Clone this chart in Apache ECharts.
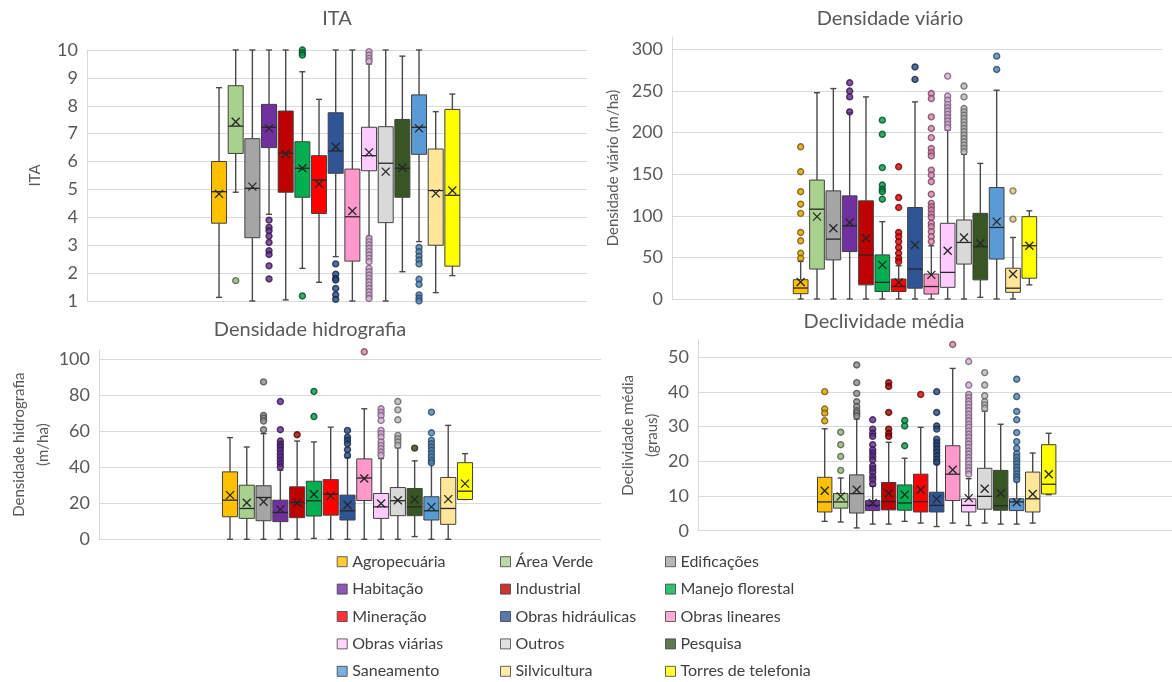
<!DOCTYPE html>
<html><head><meta charset="utf-8">
<script src="https://cdn.jsdelivr.net/npm/echarts@6/dist/echarts.min.js"></script>
<style>html,body{margin:0;padding:0;background:#fff}#c{width:1172px;height:682px}</style>
</head><body><div id="c"></div>
<script>
// ---------- DATA ----------
const categories = ['Agropecuária','Área Verde','Edificações','Habitação','Industrial','Manejo florestal','Mineração','Obras hidráulicas','Obras lineares','Obras viárias','Outros','Pesquisa','Saneamento','Silvicultura','Torres de telefonia'];
const colors = ['#FFC000','#A9D18E','#A5A5A5','#7030A0','#C00000','#00B050','#FF0000','#2F5597','#FF99CC','#FFCCFF','#D9D9D9','#375623','#5B9BD5','#FFE699','#FFFF00'];

// rows: [min, Q1, median, Q3, max, mean]
const itaBoxes = [
 [1.13,3.79,4.92,6.0,8.65,4.84],[4.9,6.29,7.27,8.72,10,7.43],[1.0,3.27,5.04,6.82,10,5.1],
 [4.11,6.5,7.23,8.05,10,7.19],[1.04,4.9,6.3,7.81,10,6.27],[2.17,4.72,5.76,6.71,9.22,5.76],
 [1.67,4.14,5.34,6.21,8.23,5.2],[2.59,5.58,6.38,7.75,10,6.53],[1.0,2.43,4.02,5.73,10,4.23],
 [3.31,5.67,6.21,7.23,9.5,6.33],[1.0,3.81,5.94,7.25,10,5.64],[2.05,4.72,5.76,7.51,9.78,5.78],
 [3.13,6.26,7.23,8.39,10,7.19],[1.3,3.0,4.96,6.45,7.79,4.86],[1.91,2.25,4.79,7.87,8.42,4.96]];
const itaOutliers = [[],[1.73],[],[3.9,3.64,3.52,3.33,3.1,2.8,2.67,2.26,1.79],[],[10,9.9,9.82,1.18],[],
 [2.33,1.96,1.81,1.75,1.45,1.22,1.06],[],
 [9.94,9.82,9.7,9.6,3.25,3.13,3.01,2.89,2.77,2.65,2.53,2.41,2.17,2.05,1.93,1.81,1.69,1.57,1.45,1.33,1.21,1.09],
 [],[],[2.92,2.77,2.61,2.47,2.33,1.78,1.6,1.22,1.1,1.0],[],[]];

const viarioBoxes = [
 [0,6.4,13.2,23.2,45.2,20.4],[0,36,108,143,248,99],[0,47,72,130,253,85],[0,57,88,124,224,92],
 [0,17,53,118,243,73],[0,9,20,53,93,41],[0,9,15,24,40,20],[0,13,36,110,237,65],[0,6,15,30,64,29],
 [0,14,32,91,203,58],[0,42,68,95,174,74],[2,23,63,103,163,67],[0,48,86,134,251,93],[0,8,13,37,74,30],
 [17,25,64,99,106,64]];
const viarioOutliers = [[183,153,129,114,103,80,70,55,49],[],[],[260,250,243,225],[],
 [215,198,158,137,132,129,120],[159,122,110,80,75,69,62,55,49,45],[279,264],
 [247,241,219,205,194,181,176,172,155,149,141,126,115,111,107,102,98,91,87,81,75,69],
 [268,244,239,234,230,226,222,218,214,210,206],
 [256,243,229,225,221,217,213,209,205,201,197,193,189,185,181,177],[],[292,276],[130,96],[]];

const hidroBoxes = [
 [0,12.5,21.7,37.4,56.4,24.5],[0,11.6,17.1,30,51.2,20.3],[0,10.3,23.2,29.7,58.6,20.8],[0,9.8,14.9,21.7,38.3,16.6],
 [0,12,20.4,29.1,54.5,20.3],[0.5,12.9,21.4,32.2,54,25],[0,13.4,25,33.1,62.2,24.1],[0,10.7,15.8,24.5,45.3,19],
 [0,21.5,34,44.6,72.4,33.7],[0,11.6,18,25.4,44.8,19.9],[0,13.1,21.4,28.7,50.8,21.7],[1.5,13.1,18,28.2,43.5,22.1],
 [0,10.7,15.8,23.6,42,18],[0,8.3,17.1,34.3,63.2,22.3],[22.1,22.1,26.7,42.5,47.5,30.9]];
const hidroOutliers = [[],[],[87.3,68.7,67.2,65.6,60.8],[76.4,60.8,54.5,52.7,51.2,49.4,47.5,45.7,43.8,42,40.1],[58],
 [82,68.1],[],[60.4,56.7,54.9,53,49.7,46.6],[104],[72.4,70.5,68.7,65.9,60.4,58.6,56.7,54,52.1,50.3,48.4,46.6],
 [76.4,71.8,66.3,57.6,55.8,54,52.1],[50.6],[70.5,59.1,54.9,53,51.2,49.4,47.5,45.7,43.8,42.4],[],[]];

const declivBoxes = [
 [2.7,5.4,8.3,15.4,29.4,11.5],[2.5,6.5,8.3,10.7,15.2,9.9],[0.8,5.1,10.7,16.1,32.2,11.8],[1.9,5.8,7.3,8.7,12.8,8.0],
 [1.9,6,8.4,13.9,25.5,10.8],[2.7,5.9,8,13.2,20.9,10.4],[2.2,5.4,8.4,16.3,29.8,11.8],[1.2,5.4,7.3,11.1,19.3,9.1],
 [2.2,8.7,16.3,24.5,46.8,17.6],[1.5,5.4,7.3,9.2,15.0,9.4],[2.2,6.2,9.9,18,34.5,12.1],[1.9,5.9,7.2,17.4,30.7,10.8],
 [1.9,5.8,8.3,9.2,14.2,8.2],[2.2,5.4,9.2,16.9,22.4,10.6],[10.4,10.6,13.4,24.8,28.1,16.3]];
const declivOutliers = [[40.1,35.1,33.9,31.7],[28.4,24.8,21.4,17.4],[47.8,42.7,39.6,37.2,35.8,34.6,33.9,33.1],
 [32,29.3,28.1,27.2,24.8,23.3,22.4,21.4,20.4,18.7,17.8,16.8,15.6,14.7,13.5],[42.7,41.6,34.1,29.3,28.1,27.2],
 [31.8,30.2,24.5],[39.3],[40.1,34.1,30.2,29.3,26.4,25.4,24.5,23.5,22.6,21.6,20.6,19.7],[53.7],
 [48.8,42,39.3,38.4,37.4,36.5,35.5,34.6,33.6,32.6,31.7,30.7,29.8,28.8,27.8,26.9,25.9,25,24,23,22.1,21.1,20.2,19.2,18.2,17.3,16.3],
 [45.6,42,38.9,37.2,36.3,35.3],[],[43.7,38.7,34.4,32,28.3,25.7,23.8,22.2,21.2,20.2,19.3,18.3,17.4,16.4,15.5,14.7],[],[]];

// ---------- LAYOUT ----------
const FONT = "Lato, 'Open Sans', sans-serif";
const TXT = '#595959';
const panels = [
 {title:'ITA', name:'ITA', boxes:itaBoxes, outliers:itaOutliers, min:1, max:10, interval:1,
  bg:{left:87,top:50,width:500,height:251}, box:{left:210.7,width:250}, t:[337,9], nameGap:40},
 {title:'Densidade viário', name:'Densidade viário (m/ha)', boxes:viarioBoxes, outliers:viarioOutliers, min:0, max:315, interval:50,
  bg:{left:672,top:37,width:490,height:262}, box:{left:792.5,width:245}, t:[890,9], nameGap:47},
 {title:'Densidade hidrografia', name:'Densidade hidrografia\n(m/ha)', boxes:hidroBoxes, outliers:hidroOutliers, min:0, max:105, interval:20,
  bg:{left:99,top:350,width:502,height:189.3}, box:{left:221.6,width:251.8}, t:[310,320], nameGap:42},
 {title:'Declividade média', name:'Declividade média\n(graus)', boxes:declivBoxes, outliers:declivOutliers, min:0, max:55, interval:10,
  bg:{left:698,top:340,width:474,height:190.7}, box:{left:816.7,width:240}, t:[884,312], nameGap:34}
];

function shade(hex, f) {
  const n = parseInt(hex.slice(1), 16);
  const r = Math.round(((n>>16)&255)*f), g = Math.round(((n>>8)&255)*f), b = Math.round((n&255)*f);
  return 'rgb(' + r + ',' + g + ',' + b + ')';
}

function renderBox(params, api) {
  const i = api.value(0);
  const cx = api.coord([i, api.value(1)])[0];
  const y = k => api.coord([i, api.value(k)])[1];
  const yMin = y(1), yQ1 = y(2), yMed = y(3), yQ3 = y(4), yMax = y(5), yMean = y(6);
  const bw = api.size([1, 0])[0] * 0.9;
  const cap = 3, m = 4;
  const ls = {stroke:'#4a4a4a', lineWidth:1.4};
  const xs = {stroke:'#262626', lineWidth:1.3};
  return {type:'group', children:[
    {type:'line', shape:{x1:cx,y1:yMax,x2:cx,y2:yQ3}, style:ls},
    {type:'line', shape:{x1:cx,y1:yQ1,x2:cx,y2:yMin}, style:ls},
    {type:'line', shape:{x1:cx-cap,y1:yMax,x2:cx+cap,y2:yMax}, style:ls},
    {type:'line', shape:{x1:cx-cap,y1:yMin,x2:cx+cap,y2:yMin}, style:ls},
    {type:'rect', shape:{x:cx-bw/2,y:yQ3,width:bw,height:Math.max(yQ1-yQ3,0.5)}, style:{fill:colors[i], stroke:'#404040', lineWidth:1}},
    {type:'line', shape:{x1:cx-bw/2,y1:yMed,x2:cx+bw/2,y2:yMed}, style:xs},
    {type:'line', shape:{x1:cx-m,y1:yMean-m,x2:cx+m,y2:yMean+m}, style:xs},
    {type:'line', shape:{x1:cx-m,y1:yMean+m,x2:cx+m,y2:yMean-m}, style:xs}
  ]};
}

const grid = [], xAxis = [], yAxis = [], series = [], title = [];
panels.forEach((p, k) => {
  const gb = 2*k, gx = 2*k+1;
  grid.push({left:p.bg.left, top:p.bg.top, width:p.bg.width, height:p.bg.height});
  grid.push({left:p.box.left, top:p.bg.top, width:p.box.width, height:p.bg.height});
  xAxis.push({gridIndex:gb, type:'category', data:[''], show:false});
  xAxis.push({gridIndex:gx, type:'category', data:categories, show:false});
  yAxis.push({gridIndex:gb, type:'value', min:p.min, max:p.max, interval:p.interval,
    axisLine:{show:true, lineStyle:{color:'#D9D9D9'}}, axisTick:{show:false},
    axisLabel:{fontSize:18, color:TXT, fontFamily:FONT, margin:9, showMaxLabel: (p.max % p.interval === 0)},
    splitLine:{show:true, showMaxLine:(p.max % p.interval === 0), lineStyle:{color:'#D9D9D9', width:1}},
    name:p.name, nameLocation:'middle', nameGap:p.nameGap,
    nameTextStyle:{fontSize:15, color:TXT, fontFamily:FONT, lineHeight:24}});
  yAxis.push({gridIndex:gx, type:'value', min:p.min, max:p.max, show:false, splitLine:{show:false}});
  title.push({text:p.title, left:p.t[0], top:p.t[1], textAlign:'center',
    textStyle:{fontSize:20, fontWeight:'normal', color:TXT, fontFamily:FONT}, padding:0});
  series.push({type:'custom', xAxisIndex:gx, yAxisIndex:gx, z:2,
    dimensions:['cat','min','q1','med','q3','max','mean'],
    encode:{x:0, y:[1,2,3,4,5,6]},
    data:p.boxes.map((b, i) => [i].concat(b)),
    renderItem:renderBox});
  const pts = [];
  p.outliers.forEach((arr, i) => arr.forEach(v => pts.push({value:[i, v],
    itemStyle:{color:shade(colors[i], 0.85), borderColor:shade(colors[i], 0.45), borderWidth:1.4}})));
  series.push({type:'scatter', xAxisIndex:gx, yAxisIndex:gx, z:3, symbol:'circle', symbolSize:6, data:pts});
});

// legend helper series (no marks)
categories.forEach((c, i) => series.push({type:'scatter', name:c, xAxisIndex:0, yAxisIndex:0, data:[],
  itemStyle:{color:colors[i]}}));

const legendLeft = [336.7, 500, 665];
const legend = [0,1,2].map(col => ({
  data: categories.filter((_, i) => i % 3 === col),
  orient:'vertical', left:legendLeft[col], top:553.7, padding:0,
  itemWidth:10, itemHeight:10, itemGap:11.4, icon:'rect', selectedMode:false,
  itemStyle:{borderColor:'#404040', borderWidth:1},
  textStyle:{fontSize:16, color:'#404040', fontFamily:FONT, lineHeight:16}
}));

const chart = echarts.init(document.getElementById('c'), null, {renderer:'canvas'});
chart.setOption({animation:false, backgroundColor:'#fff', title, grid, xAxis, yAxis, legend, series});
</script></body></html>
